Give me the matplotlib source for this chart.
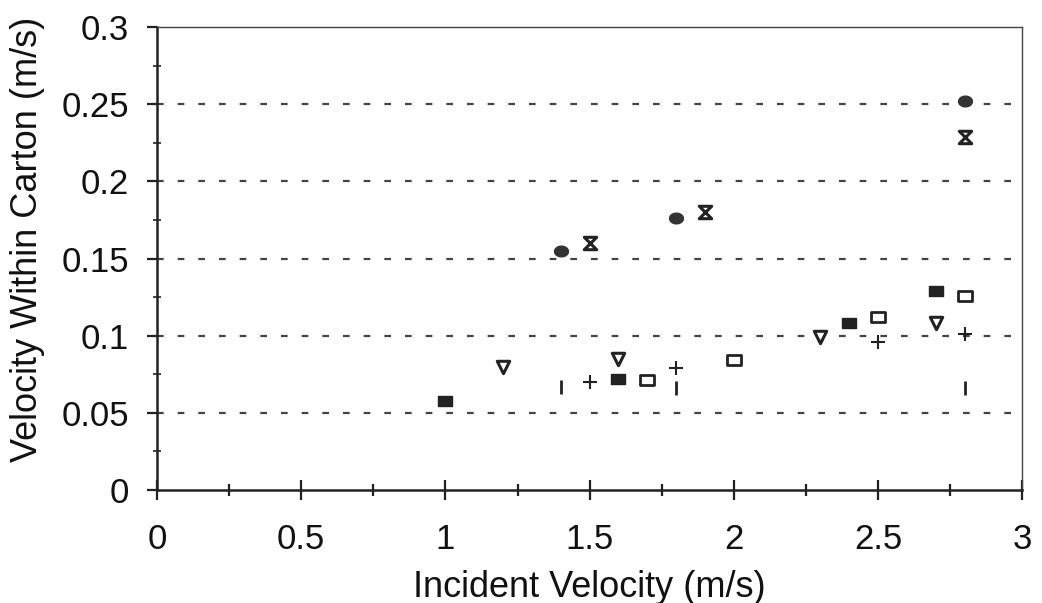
import matplotlib
matplotlib.use("Agg")
import matplotlib.pyplot as plt
from matplotlib.path import Path
from matplotlib.ticker import MultipleLocator, FixedFormatter, FixedLocator
import numpy as np

plt.rcParams['font.family'] = ['Liberation Sans', 'DejaVu Sans']

# series data
circ_x = [1.4, 1.8, 2.8]
circ_y = [0.155, 0.176, 0.252]
hour_x = [1.5, 1.9, 2.8]
hour_y = [0.160, 0.180, 0.229]
frect_x = [1.0, 1.6, 2.4, 2.7]
frect_y = [0.058, 0.072, 0.108, 0.129]
osq_x = [1.7, 2.0, 2.5, 2.8]
osq_y = [0.071, 0.084, 0.112, 0.126]
tri_x = [1.2, 1.6, 2.3, 2.7]
tri_y = [0.080, 0.085, 0.099, 0.108]
plus_x = [1.5, 1.8, 2.5, 2.8]
plus_y = [0.070, 0.079, 0.096, 0.101]
bar_x = [1.4, 1.8, 2.8]
bar_y = [0.067, 0.066, 0.066]

xticks = [0, 0.5, 1, 1.5, 2, 2.5, 3]
xticklabels = ['0', '0.5', '1', '1.5', '2', '2.5', '3']
yticks = [0, 0.05, 0.1, 0.15, 0.2, 0.25, 0.3]
yticklabels = ['0', '0.05', '0.1', '0.15', '0.2', '0.25', '0.3']

fig = plt.figure(figsize=(10.42, 6.03), dpi=100)
ax = fig.add_axes([0.1507, 0.1874, 0.8303, 0.7676])

# custom markers
rect_path = Path([(-1.4, -1), (1.4, -1), (1.4, 1), (-1.4, 1), (-1.4, -1)],
                 [Path.MOVETO, Path.LINETO, Path.LINETO, Path.LINETO, Path.CLOSEPOLY])
t = np.linspace(0, 2 * np.pi, 40)
ell_path = Path(np.column_stack([1.3 * np.cos(t), np.sin(t)]))
hour_path = Path([(-1, 1), (1, 1), (-1, -1), (1, -1), (-1, 1)],
                 [Path.MOVETO, Path.LINETO, Path.LINETO, Path.LINETO, Path.CLOSEPOLY])
osq_path = Path([(-1.3, -1), (1.3, -1), (1.3, 1), (-1.3, 1), (-1.3, -1)],
                [Path.MOVETO, Path.LINETO, Path.LINETO, Path.LINETO, Path.CLOSEPOLY])

c = '#222222'
ax.scatter(circ_x, circ_y, marker=ell_path, s=100, color='#333333', zorder=3)
ax.scatter(hour_x, hour_y, marker=hour_path, s=80, facecolors='white', edgecolors=c, linewidths=2.2, zorder=3)
ax.scatter(frect_x, frect_y, marker=rect_path, s=100, color=c, zorder=3)
ax.scatter(osq_x, osq_y, marker=osq_path, s=100, facecolors='white', edgecolors=c, linewidths=2.0, zorder=3)
ax.scatter(tri_x, tri_y, marker='v', s=80, facecolors='white', edgecolors=c, linewidths=2.2, zorder=3)
ax.scatter(plus_x, plus_y, marker='+', s=100, color=c, linewidths=1.5, zorder=3)
ax.scatter(bar_x, bar_y, marker='|', s=110, color=c, linewidths=2.0, zorder=3)

ax.set_xlim(0, 3)
ax.set_ylim(0, 0.3)

for yv in yticks[1:-1]:
    ax.axhline(yv, color='#444444', linestyle=(0, (3, 6.3)), linewidth=1.6, zorder=1)

ax.xaxis.set_major_locator(FixedLocator(xticks))
ax.xaxis.set_major_formatter(FixedFormatter(xticklabels))
ax.xaxis.set_minor_locator(MultipleLocator(0.25))
ax.yaxis.set_major_locator(FixedLocator(yticks))
ax.yaxis.set_major_formatter(FixedFormatter(yticklabels))
ax.yaxis.set_minor_locator(MultipleLocator(0.025))

ax.tick_params(axis='x', which='major', direction='inout', length=14, width=1.6, labelsize=25, pad=17, color='#222222')
ax.tick_params(axis='x', which='minor', direction='inout', length=9, width=1.6, color='#222222')
ax.tick_params(axis='y', which='major', direction='out', length=7, width=1.6, labelsize=25, pad=13, color='#222222')
ax.tick_params(axis='y', which='minor', direction='inout', length=6, width=1.2, color='#222222')
ax.tick_params(labelcolor='#111111')

for side in ['left', 'bottom']:
    ax.spines[side].set_linewidth(1.8)
    ax.spines[side].set_color('#222222')
for side in ['top', 'right']:
    ax.spines[side].set_linewidth(1.0)
    ax.spines[side].set_color('#444444')

ax.set_xlabel('Incident Velocity (m/s)', fontsize=26, color='#111111')
ax.set_ylabel('Velocity Within Carton (m/s)', fontsize=26, color='#111111')
ax.xaxis.set_label_coords(0.5, -0.172)
ax.yaxis.set_label_coords(-0.130, 0.542)

fig.savefig('out.png', dpi=100)
